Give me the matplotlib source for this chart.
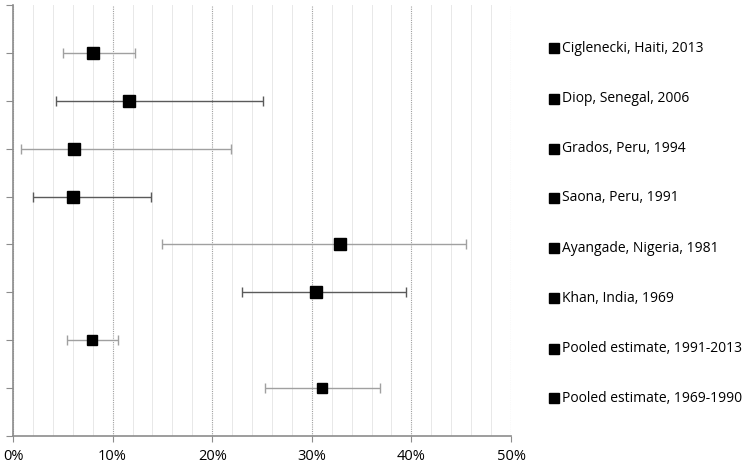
import matplotlib
matplotlib.use("Agg")
import matplotlib.pyplot as plt
from matplotlib.lines import Line2D
from matplotlib.ticker import MultipleLocator, PercentFormatter

# studies, top to bottom
labels = ["Ciglenecki, Haiti, 2013", "Diop, Senegal, 2006", "Grados, Peru, 1994",
          "Saona, Peru, 1991", "Ayangade, Nigeria, 1981", "Khan, India, 1969",
          "Pooled estimate, 1991-2013", "Pooled estimate, 1969-1990"]
estimate = [8.0, 11.6, 6.1, 6.0, 32.8, 30.4, 7.9, 31.0]
ci_low = [5.0, 4.3, 0.8, 2.0, 15.0, 23.0, 5.4, 25.3]
ci_high = [12.25, 25.1, 21.9, 13.9, 45.5, 39.5, 10.5, 36.8]
pooled = [False, False, False, False, False, False, True, True]
bar_dark = [False, True, False, True, False, True, False, False]

plt.rcParams['font.family'] = ['Open Sans', 'DejaVu Sans']

fig = plt.figure(figsize=(7.5, 4.66), dpi=100)
ax = fig.add_axes([13/750, 30/466, (511-13)/750, (436-5)/466])

n = len(labels)
for i in range(n):
    y = n - i
    col = "#5a5a5a" if bar_dark[i] else "#a0a0a0"
    ax.errorbar(estimate[i], y,
                xerr=[[estimate[i] - ci_low[i]], [ci_high[i] - estimate[i]]],
                fmt="none", ecolor=col, elinewidth=1.0, capsize=3.5, capthick=1.0, zorder=3)
    ms = 7.8 if pooled[i] else 8.8
    ax.plot(estimate[i], y, marker="s", color="black", markersize=ms, linestyle="none", zorder=4)

ax.set_xlim(0, 50)
ax.set_ylim(0, n + 1)
ax.xaxis.set_major_locator(MultipleLocator(10))
ax.xaxis.set_minor_locator(MultipleLocator(2))
ax.xaxis.set_major_formatter(PercentFormatter(decimals=0))
ax.set_yticks(range(0, n + 2))
ax.set_yticklabels([])
ax.grid(which="major", axis="x", color="#a0a0a0", linestyle=(0, (1, 1)), linewidth=0.8)
ax.grid(which="minor", axis="x", color="#e8e8e8", linestyle="-", linewidth=0.7)
ax.set_axisbelow(True)
for s in ["top", "right"]:
    ax.spines[s].set_visible(False)
for s in ["left", "bottom"]:
    ax.spines[s].set_color("#8c8c8c")
    ax.spines[s].set_linewidth(1.2)
ax.tick_params(axis="x", which="major", direction="out", length=4, color="#8c8c8c",
               labelsize=10.5, pad=5)
ax.tick_params(axis="x", which="minor", length=0)
ax.tick_params(axis="y", direction="out", length=5, color="#8c8c8c")

# legend on the right
leg_y = [48, 99, 149, 198, 248, 298, 349, 398]
for i in range(n):
    yf = 1 - leg_y[i] / 466
    ms = 6.5 if pooled[i] else 7.2
    fig.add_artist(Line2D([554/750], [yf], marker="s", color="black", markersize=ms,
                          linestyle="none", transform=fig.transFigure))
    fig.text(562/750, yf, labels[i], ha="left", va="center", fontsize=10)

fig.savefig("out.png", dpi=100)
